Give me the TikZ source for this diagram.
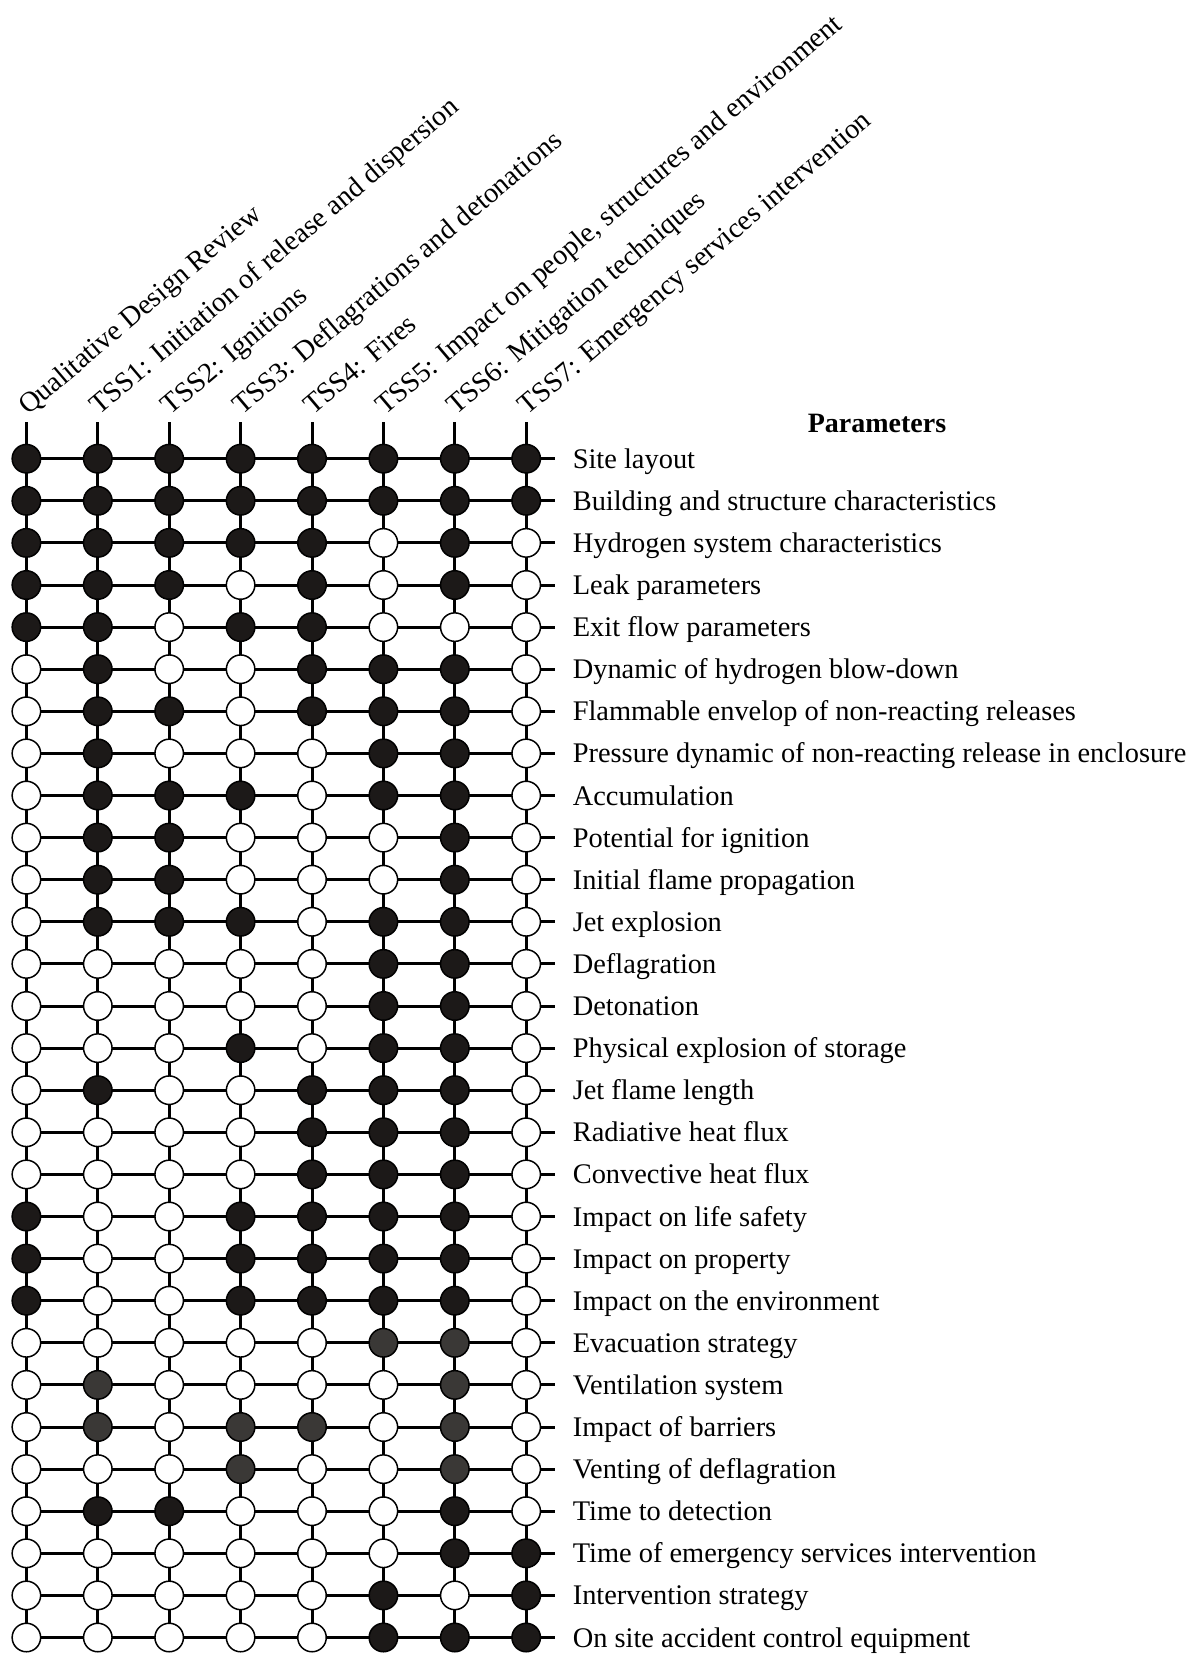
\documentclass[tikz,border=0pt]{standalone}
\usepackage{fontspec}
\setmainfont{Liberation Serif}
\usetikzlibrary{backgrounds}
\definecolor{col0}{RGB}{255,255,255}
\definecolor{col1}{RGB}{28,25,24}
\definecolor{col2}{RGB}{58,56,54}
\begin{document}
\begin{tikzpicture}[x=1pt,y=-1pt,
  dot/.style={circle,draw=black,line width=1.5pt,minimum size=28.5pt,inner sep=0pt},
  link/.style={line width=3pt,black},
  lbl/.style={anchor=base west,inner sep=0pt,font=\fontsize{28.4}{34}\selectfont},
  hdr/.style={anchor=base west,inner sep=0pt,rotate=40.3,font=\fontsize{28.4}{34}\selectfont},
  ttl/.style={anchor=base,inner sep=0pt,font=\fontsize{28}{34}\selectfont\bfseries}]
\useasboundingbox (0,0) rectangle (1200,1654);
% circles
\foreach \row [count=\r] in {
 {1,1,1,1,1,1,1,1},
 {1,1,1,1,1,1,1,1},
 {1,1,1,1,1,0,1,0},
 {1,1,1,0,1,0,1,0},
 {1,1,0,1,1,0,0,0},
 {0,1,0,0,1,1,1,0},
 {0,1,1,0,1,1,1,0},
 {0,1,0,0,0,1,1,0},
 {0,1,1,1,0,1,1,0},
 {0,1,1,0,0,0,1,0},
 {0,1,1,0,0,0,1,0},
 {0,1,1,1,0,1,1,0},
 {0,0,0,0,0,1,1,0},
 {0,0,0,0,0,1,1,0},
 {0,0,0,1,0,1,1,0},
 {0,1,0,0,1,1,1,0},
 {0,0,0,0,1,1,1,0},
 {0,0,0,0,1,1,1,0},
 {1,0,0,1,1,1,1,0},
 {1,0,0,1,1,1,1,0},
 {1,0,0,1,1,1,1,0},
 {0,0,0,0,0,2,2,0},
 {0,2,0,0,0,0,2,0},
 {0,2,0,2,2,0,2,0},
 {0,0,0,2,0,0,2,0},
 {0,1,1,0,0,0,1,0},
 {0,0,0,0,0,0,1,1},
 {0,0,0,0,0,1,0,1},
 {0,0,0,0,0,1,1,1}} {
  \foreach \v [count=\c] in \row {
    \node[dot,fill=col\v] (c\r-\c) at ({26.4+71.4*(\c-1)},{458.7+42.1*(\r-1)}) {};
  }
  \coordinate (e\r) at (555,{458.7+42.1*(\r-1)});
}
% column tops
\foreach \c in {1,...,8} {
  \coordinate (t\c) at ({26.4+71.4*(\c-1)},422);
}
\begin{pgfonlayer}{background}
  \foreach \r in {1,...,29} {
    \draw[link] (c\r-1.center) -- (e\r);
  }
  \foreach \c in {1,...,8} {
    \draw[link] (t\c) -- (c29-\c.center);
  }
\end{pgfonlayer}
% column headers
\foreach \t [count=\c] in {
 {Qualitative Design Review},
 {TSS1: Initiation of release and dispersion},
 {TSS2: Ignitions},
 {TSS3: Deflagrations and detonations},
 {TSS4: Fires},
 {TSS5: Impact on people, structures and environment},
 {TSS6: Mitigation techniques},
 {TSS7: Emergency services intervention}} {
  \node[hdr] (h\c) at ({26.4+71.4*(\c-1)+1.5},416) {\t};
}
% parameter labels
\node[ttl] (ptitle) at (877,432) {Parameters};
\foreach \t [count=\r] in {
 {Site layout},
 {Building and structure characteristics},
 {Hydrogen system characteristics},
 {Leak parameters},
 {Exit flow parameters},
 {Dynamic of hydrogen blow-down},
 {Flammable envelop of non-reacting releases},
 {Pressure dynamic of non-reacting release in enclosure},
 {Accumulation},
 {Potential for ignition},
 {Initial flame propagation},
 {Jet explosion},
 {Deflagration},
 {Detonation},
 {Physical explosion of storage},
 {Jet flame length},
 {Radiative heat flux},
 {Convective heat flux},
 {Impact on life safety},
 {Impact on property},
 {Impact on the environment},
 {Evacuation strategy},
 {Ventilation system},
 {Impact of barriers},
 {Venting of deflagration},
 {Time to detection},
 {Time of emergency services intervention},
 {Intervention strategy},
 {On site accident control equipment}} {
  \node[lbl] (p\r) at (572.6,{458.7+42.1*(\r-1)+9.5}) {\t};
}
\end{tikzpicture}
\end{document}
